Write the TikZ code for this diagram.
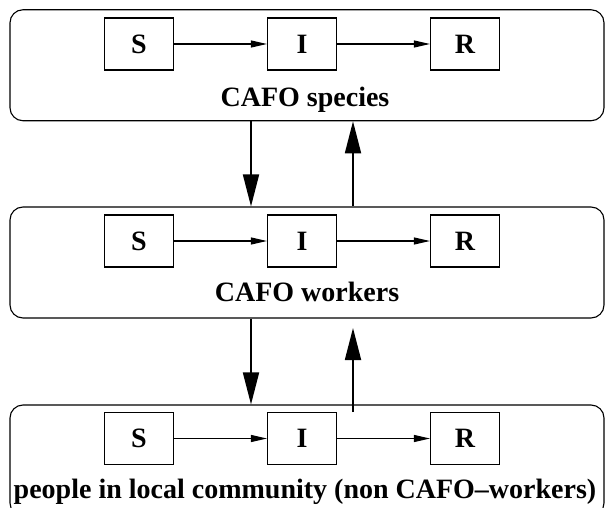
\documentclass[tikz,border=0pt]{standalone}
\usepackage{fontspec}
\setmainfont{Liberation Serif}
\usepackage{tikz}
\usetikzlibrary{arrows.meta}

\begin{document}
\begin{tikzpicture}[x=1pt, y=-1pt,
        font=\fontsize{28}{32}\selectfont\bfseries,
        group/.style={draw, rounded corners=13pt, line width=1.1pt, minimum width=594pt, minimum height=111pt, inner sep=0pt},
        state/.style={draw, line width=1.1pt, minimum width=69pt, minimum height=52pt, inner sep=0pt},
        flow/.style={line width=1.1pt, -{Triangle[length=16pt, width=7pt]}},
        link/.style={line width=1.8pt, -{Triangle[length=32pt, width=16pt]}}]
        \clip (0,0) rectangle (605,508);
        \node[group] (species) at (307,65.25) {};
        \node[group] (workers) at (307,262.5) {};
        \node[group] (people) at (307,460.5) {};
        \node[state] (S1) at (139,44) {S};
        \node[state] (I1) at (302,44) {I};
        \node[state] (R1) at (465,44) {R};
        \node[state] (S2) at (139,241) {S};
        \node[state] (I2) at (302,241) {I};
        \node[state] (R2) at (465,241) {R};
        \node[state] (S3) at (139,438.5) {S};
        \node[state] (I3) at (302,438.5) {I};
        \node[state] (R3) at (465,438.5) {R};
        \node[anchor=base] (lab1) at (305,107) {CAFO species};
        \node[anchor=base] (lab2) at (307,301) {CAFO workers};
        \node[anchor=base] (lab3) at (305,498) {people in local community (non CAFO--workers)};
        \draw[flow] (S1) -- (I1);
        \draw[flow] (I1) -- (R1);
        \draw[flow] (S2) -- (I2);
        \draw[flow] (I2) -- (R2);
        \draw[flow] (S3) -- (I3);
        \draw[flow] (I3) -- (R3);
        \coordinate (down) at (251,0);
        \coordinate (up) at (353,0);
        \coordinate (start) at (353,412);
        \coordinate (stop) at (353,328);
        \draw[link] (down |- species.south) -- (down |- workers.north);
        \draw[link] (up |- workers.north) -- (up |- species.south);
        \draw[link] (down |- workers.south) -- (down |- people.north);
        \draw[link] (start) -- (stop);
    \end{tikzpicture}
\end{document}
